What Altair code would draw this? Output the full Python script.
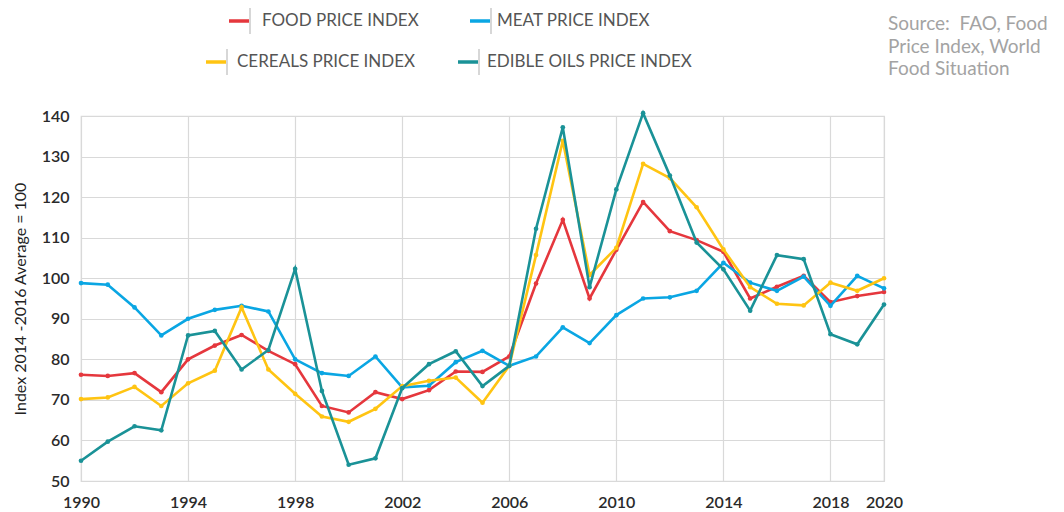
import altair as alt
import pandas as pd

years = list(range(1990, 2021))

food = [76.2, 75.9, 76.6, 71.9, 80.0, 83.4, 86.0, 82.1, 78.8, 68.5, 66.9, 71.9, 70.2,
        72.4, 77.0, 76.9, 80.7, 98.7, 114.4, 95.0, 107.0, 118.8, 111.6, 109.4, 106.5,
        95.0, 97.9, 100.6, 94.1, 95.6, 96.6]
meat = [98.8, 98.4, 92.8, 85.9, 90.0, 92.2, 93.2, 91.8, 80.0, 76.6, 75.9, 80.7, 73.1,
        73.5, 79.3, 82.1, 78.4, 80.7, 87.9, 84.0, 90.9, 95.0, 95.3, 96.9, 103.8,
        98.9, 96.9, 100.4, 93.2, 100.6, 97.5]
cereals = [70.2, 70.6, 73.2, 68.5, 74.1, 77.2, 92.8, 77.5, 71.5, 65.9, 64.6, 67.8, 73.4,
           74.7, 75.5, 69.3, 78.4, 105.7, 133.9, 100.8, 107.5, 128.2, 124.7, 117.5, 107.1,
           97.8, 93.7, 93.3, 98.9, 96.9, 100.0]
oils = [55.0, 59.7, 63.5, 62.5, 85.9, 87.0, 77.5, 82.3, 102.3, 72.2, 54.0, 55.6, 72.9,
        78.8, 82.0, 73.4, 78.4, 112.2, 137.2, 97.8, 121.9, 140.7, 125.3, 108.8, 102.2,
        92.0, 105.7, 104.7, 86.2, 83.7, 93.5]

series_names = ["FOOD PRICE INDEX", "MEAT PRICE INDEX", "CEREALS PRICE INDEX", "EDIBLE OILS PRICE INDEX"]
series_values = [food, meat, cereals, oils]
series_colors = ["#E5373D", "#0AA6E3", "#FFC412", "#1A9297"]

x_ticks = [1990, 1994, 1998, 2002, 2006, 2010, 2014, 2018, 2020]
y_ticks = list(range(50, 141, 10))
y_title = "Index 2014 -2016 Average = 100"
source_lines = ["Source:\u00a0 FAO, Food", "Price Index, World", "Food Situation"]

FONT = "Lato"

x_scale = alt.Scale(domain=[1990, 2020], nice=False, zero=False)
y_scale = alt.Scale(domain=[50, 140], nice=False, zero=False)

x_axis = alt.Axis(values=x_ticks, format="d", title=None, labelFontSize=16, labelFont=FONT,
                  labelFontWeight=600, labelColor="#2a2a2a", labelPadding=13, ticks=False,
                  domain=False, grid=True, gridColor="#d9d9d9", gridWidth=1.2, labelFlush=False)
y_axis = alt.Axis(values=y_ticks, title=y_title, labelFontSize=16, labelFont=FONT,
                  labelFontWeight=600, labelColor="#2a2a2a", labelPadding=12, ticks=False,
                  domain=False, grid=True, gridColor="#d9d9d9", gridWidth=1.2,
                  titleFont=FONT, titleFontSize=16, titleFontWeight="normal", titleColor="#222",
                  titlePadding=13)

layers = []
base_df = pd.DataFrame({"year": years, "value": food})
grid = alt.Chart(base_df).mark_point(opacity=0).encode(
    x=alt.X("year:Q", scale=x_scale, axis=x_axis),
    y=alt.Y("value:Q", scale=y_scale, axis=y_axis),
)
layers.append(grid)

for name, vals, col in zip(series_names, series_values, series_colors):
    df = pd.DataFrame({"year": years, "value": vals, "series": name})
    line = alt.Chart(df).mark_line(color=col, strokeWidth=2.6, clip=False).encode(
        x=alt.X("year:Q", scale=x_scale),
        y=alt.Y("value:Q", scale=y_scale),
    )
    pts = alt.Chart(df).mark_circle(color=col, size=22, opacity=1, clip=False).encode(
        x=alt.X("year:Q", scale=x_scale),
        y=alt.Y("value:Q", scale=y_scale),
    )
    layers += [line, pts]

# manual legend (relative to plot origin at page x=81, y=116)
legend_pos = [(148, -95, 181), (389, -95, 416), (125, -54, 156), (377, -54, 406)]
for (name, col, (dx, dy, tx)) in zip(series_names, series_colors, legend_pos):
    one = pd.DataFrame({"a": [0]})
    dash = alt.Chart(one).mark_rule(color=col, strokeWidth=3.5).encode(
        x=alt.value(dx), x2=alt.value(dx + 20), y=alt.value(dy))
    sep = alt.Chart(one).mark_rule(color="#bdbdbd", strokeWidth=1.2).encode(
        x=alt.value(dx + 21), y=alt.value(dy - 13), y2=alt.value(dy + 13))
    txt = alt.Chart(one).mark_text(text=name, align="left", baseline="middle", font=FONT,
                                   fontSize=17, color="#555555").encode(
        x=alt.value(tx), y=alt.value(dy))
    layers += [dash, sep, txt]

for i, line_txt in enumerate(source_lines):
    one = pd.DataFrame({"a": [0]})
    t = alt.Chart(one).mark_text(text=line_txt, align="left", baseline="middle", font=FONT,
                                 fontSize=19, color="#a3a3a3").encode(
        x=alt.value(807), y=alt.value(-92 + i * 22.5))
    layers.append(t)

chart = alt.layer(*layers).properties(
    width=803, height=365,
    autosize=alt.AutoSizeParams(type="none"),
    padding={"left": 73, "top": 108, "right": 164, "bottom": 30},
).configure_view(stroke="#d9d9d9", strokeWidth=1.2)

chart.save("out.html", embed_options={"renderer": "svg", "actions": False})
